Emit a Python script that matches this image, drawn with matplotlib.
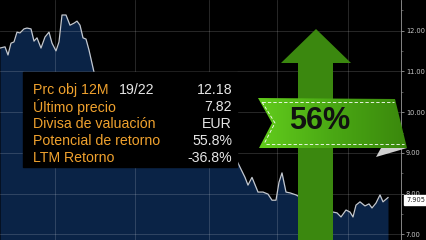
import numpy as np
import matplotlib.pyplot as plt
from matplotlib.patches import Polygon, Rectangle
from matplotlib.colors import LinearSegmentedColormap

# price history (trading-day index, price in EUR)
days = [0, 5, 8, 11, 14, 17, 20, 24, 27, 31, 34, 37, 41, 45, 49, 52, 56, 59,
        62, 66, 70, 74, 77, 80, 83, 86, 89, 94, 100, 110, 120, 130, 140, 150,
        160, 170, 180, 190, 200, 210, 220, 228, 235, 240, 245, 248, 252, 258,
        263, 268, 272, 276, 279, 282, 286, 290, 296, 305, 315, 325, 333, 337,
        341, 346, 350, 353, 356, 360, 365, 369, 372, 376, 380, 383, 388]
price = [11.57, 11.60, 11.40, 11.69, 11.72, 11.96, 11.94, 12.04, 12.06, 12.04,
         11.74, 11.82, 11.57, 11.84, 11.96, 11.69, 11.50, 11.72, 12.38, 12.38,
         12.13, 12.18, 12.23, 12.13, 11.82, 11.79, 11.52, 10.98, 10.70, 10.90,
         10.50, 10.60, 10.30, 10.40, 10.10, 10.20, 9.90, 9.70, 9.80, 9.50, 9.30,
         9.10, 8.90, 8.65, 8.40, 8.21, 8.40, 8.04, 8.04, 7.99, 7.84, 7.84, 8.28,
         8.51, 8.04, 8.02, 7.97, 7.85, 7.72, 7.60, 7.55, 7.53, 7.43, 7.60, 7.55,
         7.43, 7.72, 7.80, 7.70, 7.75, 7.65, 7.77, 7.97, 7.80, 7.905]
last_price = "7.905"
y_ticks = [7, 8, 9, 10, 11, 12]
x_grid = [55, 135, 209, 277, 348]

labels = ["Prc obj 12M", "Último precio", "Divisa de valuación",
          "Potencial de retorno", "LTM Retorno"]
values = ["12.18", "7.82", "EUR", "55.8%", "-36.8%"]
upside = "56%"

W, H = 426, 240
fig = plt.figure(figsize=(W / 100, H / 100), dpi=100, facecolor='black')
ax = fig.add_axes([0, 0, 401 / W, 1])
ax.set_facecolor('black')

ymin, ymax = 6.865, 12.748
ax.fill_between(days, price, ymin, color='#0a2346', lw=0)
ax.plot(days, price, color='#c3c8d0', lw=0.9)

ax.yaxis.tick_right()
ax.set_yticks(y_ticks)
ax.set_yticklabels([f"{v:.2f}" for v in y_ticks])
ax.set_yticks(np.arange(7.5, 12.6, 1.0), minor=True)
ax.tick_params(axis='y', which='major', colors='#9a9a9a', labelcolor='#c8c8c8',
               labelsize=4.8, length=2.5, width=0.6, pad=1)
ax.tick_params(axis='y', which='minor', colors='#777777', length=1.5, width=0.5)
ax.set_xticks(x_grid)
ax.tick_params(axis='x', length=0, labelbottom=False)
ax.set_xlim(0, 401)
ax.set_ylim(ymin, ymax)
ax.set_axisbelow('line')
ax.grid(True, which='major', color='white', alpha=0.18, lw=0.6)
for s in ['top', 'left', 'bottom']:
    ax.spines[s].set_visible(False)
ax.spines['right'].set_color('#9a9a9a')
ax.spines['right'].set_linewidth(0.6)

# overlay in pixel coordinates
ov = fig.add_axes([0, 0, 1, 1])
ov.axis('off')
ov.patch.set_alpha(0)

# last price tag
ov.add_patch(Rectangle((404, 195), 22, 10, color='white', zorder=3))
ov.text(406, 200.5, last_price, fontsize=4.8, color='#222222', va='center', ha='left', zorder=4)

# info panel
ov.add_patch(Rectangle((23, 72), 214, 95, color='black', zorder=2))
row_y = [90, 107, 124, 141, 158]
for lab, val, yy in zip(labels, values, row_y):
    ov.text(33, yy, lab, fontsize=10.2, color='#f0a22e', va='center', ha='left',
            family='Liberation Sans', zorder=3)
    ov.text(232, yy, val, fontsize=10.2, color='#e6e6e6', va='center', ha='right',
            family='Liberation Sans', zorder=3)
ov.text(119, 90, "19/22", fontsize=10.2, color='#e6e6e6', va='center', ha='left',
        family='Liberation Sans', zorder=3)

# green arrow
ov.add_patch(Polygon([(316, 29), (351, 63), (333, 63), (333, 240), (298, 240),
                      (298, 63), (281, 63)], closed=True, color='#3b880f', lw=0, zorder=3))

# ribbon with gradient
rib = Polygon([(258, 98), (395, 99), (407, 148), (259, 148), (272, 123)],
              closed=True, facecolor='none', lw=0, zorder=4)
ov.add_patch(rib)
grad = np.linspace(0, 1, 256).reshape(1, -1)
cmap = LinearSegmentedColormap.from_list('g', ['#62cc1c', '#4aa814', '#3a870c'])
im = ov.imshow(grad, cmap=cmap, extent=(258, 408, 148, 98), aspect='auto', zorder=4)
im.set_clip_path(rib)
ov.plot([262, 394], [102, 102], color='white', lw=0.6, ls=(0, (4, 2.5)), zorder=5)
ov.plot([266, 404], [144, 144], color='white', lw=0.6, ls=(0, (4, 2.5)), zorder=5)
ov.plot([262, 275, 264], [102, 123, 144], color='white', lw=0.6, ls=(0, (4, 2.5)), zorder=5)
# folded corner
ov.add_patch(Polygon([(376, 157), (381, 148), (407, 148)], closed=True,
                     color='#d0d0d0', lw=0, zorder=5))
ov.text(320, 121, upside, fontsize=22, fontweight='bold', color='#111111',
        ha='center', va='center', family='Liberation Sans', zorder=6)
ov.set_xlim(0, W)
ov.set_ylim(H, 0)

fig.savefig('out.png', dpi=100, facecolor='black')
